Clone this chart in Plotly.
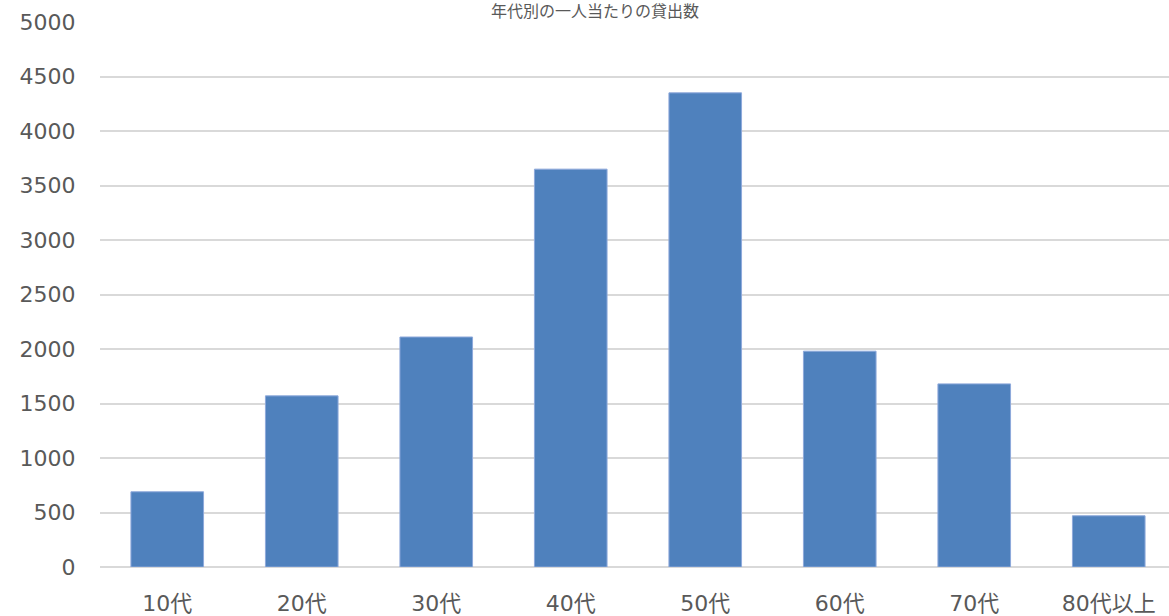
import plotly.graph_objects as go

categories = ["10代", "20代", "30代", "40代", "50代", "60代", "70代", "80代以上"]
values = [690, 1570, 2110, 3650, 4350, 1980, 1680, 470]
y_ticks = [0, 500, 1000, 1500, 2000, 2500, 3000, 3500, 4000, 4500, 5000]
title_text = "年代別の一人当たりの貸出数"

font_family = "DejaVu Sans, Noto Sans CJK JP, sans-serif"
text_color = "#595959"

fig = go.Figure(
    go.Bar(
        x=list(range(len(categories))),
        y=values,
        marker=dict(color="#4F81BD", line=dict(color="#8EA9DB", width=1)),
        width=0.54,
    )
)

fig.update_layout(
    width=1169,
    height=616,
    margin=dict(l=100, r=0, t=22, b=49),
    paper_bgcolor="white",
    plot_bgcolor="white",
    showlegend=False,
    font=dict(family=font_family, color=text_color, size=20),
    bargap=0.46,
)

fig.update_xaxes(
    tickmode="array",
    tickvals=list(range(len(categories))),
    ticktext=categories,
    range=[-0.5, 7.448],
    showgrid=False,
    zeroline=False,
    showline=False,
    ticks="outside",
    ticklen=17,
    tickcolor="rgba(0,0,0,0)",
    tickfont=dict(size=22, color=text_color),
)

fig.update_yaxes(
    range=[0, 5000],
    tickmode="array",
    tickvals=y_ticks,
    ticktext=[str(v) for v in y_ticks],
    showgrid=True,
    gridcolor="#D9D9D9",
    gridwidth=1.5,
    zeroline=True,
    zerolinecolor="#D9D9D9",
    zerolinewidth=1.5,
    showline=False,
    ticks="outside",
    ticklen=19,
    tickcolor="rgba(0,0,0,0)",
    tickfont=dict(size=22, color=text_color),
)

fig.add_annotation(
    text=title_text,
    xref="paper",
    yref="paper",
    x=0.463,
    y=1.0,
    xanchor="center",
    yanchor="bottom",
    yshift=-1,
    showarrow=False,
    font=dict(size=16, color=text_color, family=font_family),
)

fig.write_html("out.html", config={"displayModeBar": False})
